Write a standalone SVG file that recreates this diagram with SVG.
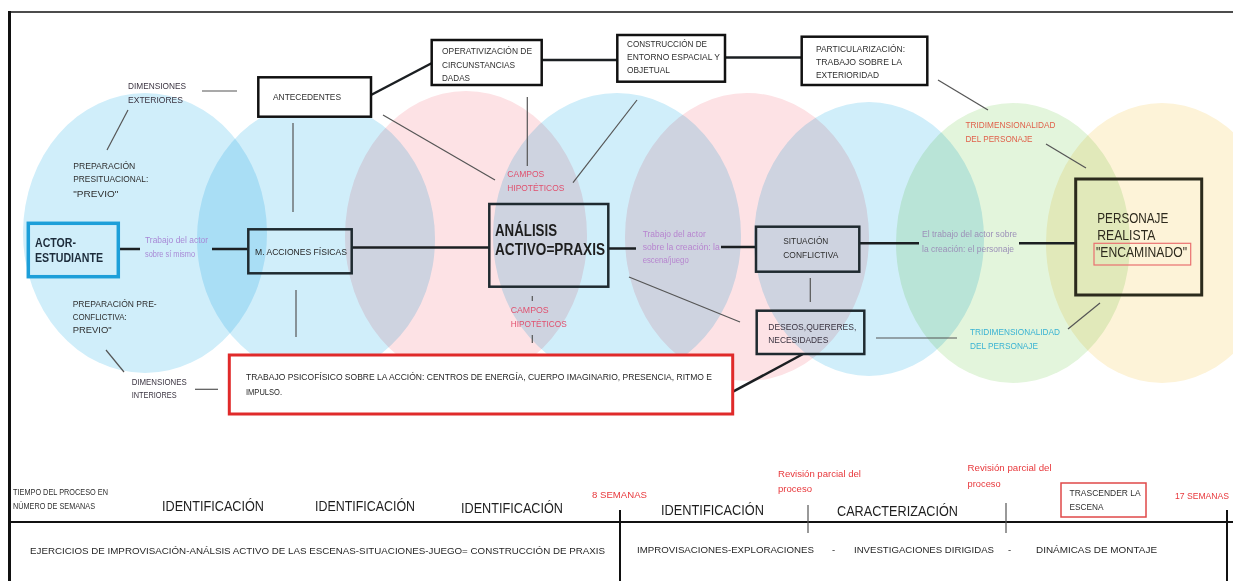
<svg xmlns="http://www.w3.org/2000/svg" width="1233" height="581" viewBox="0 0 1233 581">
  <style>
    text { font-family: "Liberation Sans", Arial, sans-serif; }
    .sm { font-size: 9.3px; fill: #2e2e2e; }
    .dk { font-size: 9.3px; fill: #3a3340; }
    .mid { font-size: 9.5px; fill: #262626; }
    .big { font-size: 16px; fill: #1e1e1e; }
    .ident { font-size: 14px; fill: #1e1e1e; }
    .red { font-size: 9.3px; fill: #e0506e; }
    .orange { font-size: 9.3px; fill: #e0604a; }
    .cyan { font-size: 9.3px; fill: #3ab3d3; }
    .purple { font-size: 9px; fill: #a889d6; }
    .magenta { font-size: 9px; fill: #b784cf; }
    .lilac { font-size: 9px; fill: #9c90b8; }
    .alert { font-size: 9.5px; fill: #e8383c; }
    .box { fill: none; stroke: #1f2a30; stroke-width: 2.5; }
    .boxw { fill: #fff; stroke: #111; stroke-width: 2.5; }
    .thick { stroke: #1b1f22; stroke-width: 2.5; fill: none; }
    .thin { stroke: #555; stroke-width: 1.2; fill: none; }
    .frame { stroke: #111; fill: none; }
    .blob { mix-blend-mode: multiply; }
    .blue { fill: #d0eefa; }
    .pink { fill: #fde2e5; }
    .green { fill: #e3f5dc; }
    .yellow { fill: #fdf3d8; }
  </style>

  <rect width="1233" height="581" fill="#fff"/>

  <!-- overlapping fields behind the chain of nodes -->
  <g id="fields">
    <ellipse class="blob blue" cx="145" cy="233" rx="122" ry="140"/>
    <ellipse class="blob blue" cx="316" cy="239" rx="119" ry="137"/>
    <ellipse class="blob pink" cx="466" cy="236" rx="121" ry="145"/>
    <ellipse class="blob blue" cx="617" cy="236" rx="124" ry="143"/>
    <ellipse class="blob pink" cx="747" cy="237" rx="122" ry="144"/>
    <ellipse class="blob blue" cx="869" cy="239" rx="115" ry="137"/>
    <ellipse class="blob green" cx="1013" cy="243" rx="117" ry="140"/>
    <ellipse class="blob yellow" cx="1162" cy="243" rx="116" ry="140"/>
  </g>

  <!-- outer frame -->
  <g id="frame">
    <line class="frame" x1="9" y1="12" x2="1233" y2="12" stroke-width="1.6"/>
    <line class="frame" x1="9.5" y1="11" x2="9.5" y2="581" stroke-width="3"/>
  </g>

  <g id="connectors">
    <line class="thick" x1="371" y1="95" x2="432" y2="63"/>
    <line class="thick" x1="542" y1="60" x2="617" y2="60"/>
    <line class="thick" x1="725" y1="57.5" x2="802" y2="57.5"/>
    <line class="thick" x1="119" y1="249" x2="140" y2="249"/>
    <line class="thick" x1="212" y1="249" x2="248" y2="249"/>
    <line class="thick" x1="352" y1="247.5" x2="489" y2="247.5"/>
    <line class="thick" x1="608" y1="248.5" x2="636" y2="248.5"/>
    <line class="thick" x1="721" y1="247" x2="756" y2="247"/>
    <line class="thick" x1="859" y1="243.3" x2="919" y2="243.3"/>
    <line class="thick" x1="1019" y1="243.3" x2="1076" y2="243.3"/>
    <line class="thick" x1="733" y1="391.7" x2="803" y2="354"/>

    <line class="thin" x1="202" y1="91" x2="237" y2="91"/>
    <line class="thin" x1="128" y1="110" x2="107" y2="150"/>
    <line class="thin" x1="383" y1="115" x2="495" y2="180"/>
    <line class="thin" x1="293" y1="123" x2="293" y2="212"/>
    <line class="thin" x1="527.3" y1="97" x2="527.3" y2="166"/>
    <line class="thin" x1="637" y1="100" x2="573" y2="182.7"/>
    <line class="thin" x1="938" y1="80" x2="988" y2="110"/>
    <line class="thin" x1="1046" y1="144" x2="1086" y2="168"/>
    <line class="thin" x1="296" y1="290" x2="296" y2="337"/>
    <line class="thin" x1="106" y1="350" x2="124" y2="372"/>
    <line class="thin" x1="195" y1="389.3" x2="218" y2="389.3"/>
    <line class="thin" x1="532.3" y1="296" x2="532.3" y2="301"/>
    <line class="thin" x1="532.3" y1="335" x2="532.3" y2="343"/>
    <line class="thin" x1="629" y1="277" x2="740" y2="322"/>
    <line class="thin" x1="810.3" y1="278" x2="810.3" y2="302"/>
    <line class="thin" x1="876" y1="338" x2="957" y2="338"/>
    <line class="thin" x1="1100" y1="303" x2="1068" y2="329"/>
  </g>

  <!-- upper chain -->
  <g id="dimensiones-exteriores">
    <text class="dk" x="128" y="88.5" textLength="58" lengthAdjust="spacingAndGlyphs">DIMENSIONES</text>
    <text class="dk" x="128" y="102.5" textLength="55" lengthAdjust="spacingAndGlyphs">EXTERIORES</text>
  </g>
  <g id="antecedentes">
    <rect class="boxw" x="258.3" y="77.3" width="112.7" height="39.4"/>
    <text class="sm" x="273" y="100" textLength="68" lengthAdjust="spacingAndGlyphs">ANTECEDENTES</text>
  </g>
  <g id="operativizacion">
    <rect class="boxw" x="431.7" y="40" width="110" height="45"/>
    <text class="sm" x="442" y="54.3" textLength="90" lengthAdjust="spacingAndGlyphs">OPERATIVIZACIÓN DE</text>
    <text class="sm" x="442" y="67.5" textLength="73" lengthAdjust="spacingAndGlyphs">CIRCUNSTANCIAS</text>
    <text class="sm" x="442" y="80.7" textLength="28" lengthAdjust="spacingAndGlyphs">DADAS</text>
  </g>
  <g id="construccion">
    <rect class="boxw" x="617.3" y="35" width="107.7" height="46.7"/>
    <text class="sm" x="627" y="46.7" textLength="80" lengthAdjust="spacingAndGlyphs">CONSTRUCCIÓN DE</text>
    <text class="sm" x="627" y="60" textLength="93" lengthAdjust="spacingAndGlyphs">ENTORNO ESPACIAL Y</text>
    <text class="sm" x="627" y="73.3" textLength="43" lengthAdjust="spacingAndGlyphs">OBJETUAL</text>
  </g>
  <g id="particularizacion">
    <rect class="boxw" x="801.7" y="36.7" width="125.6" height="48.3"/>
    <text class="sm" x="816" y="51.7" textLength="89" lengthAdjust="spacingAndGlyphs">PARTICULARIZACIÓN:</text>
    <text class="sm" x="816" y="65" textLength="86" lengthAdjust="spacingAndGlyphs">TRABAJO SOBRE LA</text>
    <text class="sm" x="816" y="78.3" textLength="63" lengthAdjust="spacingAndGlyphs">EXTERIORIDAD</text>
  </g>
  <g id="campos-superior">
    <text class="red" x="507.3" y="176.7" textLength="37" lengthAdjust="spacingAndGlyphs">CAMPOS</text>
    <text class="red" x="507.3" y="190.7" textLength="57" lengthAdjust="spacingAndGlyphs">HIPOTÉTICOS</text>
  </g>
  <g id="tridimensionalidad-superior">
    <text class="orange" x="965.5" y="128.3" textLength="90" lengthAdjust="spacingAndGlyphs">TRIDIMENSIONALIDAD</text>
    <text class="orange" x="965.5" y="141.7" textLength="67" lengthAdjust="spacingAndGlyphs">DEL PERSONAJE</text>
  </g>
  <g id="preparacion-presituacional">
    <text class="sm" x="73.3" y="168.5" textLength="62" lengthAdjust="spacingAndGlyphs">PREPARACIÓN</text>
    <text class="sm" x="73.3" y="182.3" textLength="75" lengthAdjust="spacingAndGlyphs">PRESITUACIONAL:</text>
    <text class="sm" x="73.3" y="196.5" textLength="45" lengthAdjust="spacingAndGlyphs">"PREVIO"</text>
  </g>

  <!-- central chain -->
  <g id="actor-estudiante">
    <rect x="28.3" y="223.3" width="90" height="53.4" fill="none" stroke="#1d9fd9" stroke-width="3.5"/>
    <text x="35" y="247" font-size="12.5" font-weight="bold" fill="#1c2b3a" textLength="41" lengthAdjust="spacingAndGlyphs">ACTOR-</text>
    <text x="35" y="262" font-size="12.5" font-weight="bold" fill="#1c2b3a" textLength="68" lengthAdjust="spacingAndGlyphs">ESTUDIANTE</text>
  </g>
  <g id="trabajo-sobre-si">
    <text class="purple" x="145" y="243.3" textLength="63" lengthAdjust="spacingAndGlyphs">Trabajo del actor</text>
    <text class="purple" x="145" y="256.7" textLength="50" lengthAdjust="spacingAndGlyphs">sobre sí mismo</text>
  </g>
  <g id="acciones-fisicas">
    <rect class="box" x="248.3" y="229.3" width="103.4" height="44"/>
    <text class="mid" x="255" y="255" textLength="92" lengthAdjust="spacingAndGlyphs">M. ACCIONES FÍSICAS</text>
  </g>
  <g id="analisis-activo">
    <rect class="box" x="489.3" y="204" width="119" height="82.7" stroke-width="3"/>
    <text class="big" x="495" y="235.7" font-weight="bold" textLength="62" lengthAdjust="spacingAndGlyphs">ANÁLISIS</text>
    <text class="big" x="495" y="255" font-weight="bold" textLength="110" lengthAdjust="spacingAndGlyphs">ACTIVO=PRAXIS</text>
  </g>
  <g id="trabajo-sobre-escena">
    <text class="magenta" x="642.7" y="236.7" textLength="63" lengthAdjust="spacingAndGlyphs">Trabajo del actor</text>
    <text class="magenta" x="642.7" y="250" textLength="77" lengthAdjust="spacingAndGlyphs">sobre la creación: la</text>
    <text class="magenta" x="642.7" y="263.3" textLength="46" lengthAdjust="spacingAndGlyphs">escena/juego</text>
  </g>
  <g id="situacion-conflictiva">
    <rect class="box" x="756" y="226.7" width="103.3" height="45"/>
    <text class="sm" x="783.3" y="244.3" textLength="45" lengthAdjust="spacingAndGlyphs">SITUACIÓN</text>
    <text class="sm" x="783.3" y="258.3" textLength="55" lengthAdjust="spacingAndGlyphs">CONFLICTIVA</text>
  </g>
  <g id="trabajo-sobre-personaje">
    <text class="lilac" x="922" y="236.7" textLength="95" lengthAdjust="spacingAndGlyphs">El trabajo del actor sobre</text>
    <text class="lilac" x="922" y="252" textLength="92" lengthAdjust="spacingAndGlyphs">la creación: el personaje</text>
  </g>
  <g id="personaje-realista">
    <rect x="1075.7" y="179" width="126" height="116" fill="none" stroke="#2b2a1c" stroke-width="3"/>
    <text x="1097.3" y="222.7" font-size="15" fill="#2e2a1e" textLength="71" lengthAdjust="spacingAndGlyphs">PERSONAJE</text>
    <text x="1097.3" y="239.5" font-size="15" fill="#2e2a1e" textLength="58" lengthAdjust="spacingAndGlyphs">REALISTA</text>
    <rect x="1094" y="243.3" width="96.7" height="21.7" fill="none" stroke="#ea7070" stroke-width="1.2"/>
    <text x="1096" y="256.7" font-size="15" fill="#2e2a1e" textLength="91" lengthAdjust="spacingAndGlyphs">"ENCAMINADO"</text>
  </g>

  <!-- lower chain -->
  <g id="preparacion-preconflictiva">
    <text class="sm" x="72.7" y="306.5" textLength="84" lengthAdjust="spacingAndGlyphs">PREPARACIÓN PRE-</text>
    <text class="sm" x="72.7" y="320" textLength="54" lengthAdjust="spacingAndGlyphs">CONFLICTIVA:</text>
    <text class="sm" x="72.7" y="333" textLength="39" lengthAdjust="spacingAndGlyphs">PREVIO"</text>
  </g>
  <g id="campos-inferior">
    <text class="red" x="510.7" y="312.7" textLength="38" lengthAdjust="spacingAndGlyphs">CAMPOS</text>
    <text class="red" x="510.7" y="326.7" textLength="56" lengthAdjust="spacingAndGlyphs">HIPOTÉTICOS</text>
  </g>
  <g id="deseos">
    <rect class="box" x="756.7" y="310.7" width="107.6" height="43.3"/>
    <text class="dk" x="768.3" y="330" textLength="88" lengthAdjust="spacingAndGlyphs">DESEOS,QUERERES,</text>
    <text class="dk" x="768.3" y="342.5" textLength="60" lengthAdjust="spacingAndGlyphs">NECESIDADES</text>
  </g>
  <g id="tridimensionalidad-inferior">
    <text class="cyan" x="970" y="335" textLength="90" lengthAdjust="spacingAndGlyphs">TRIDIMENSIONALIDAD</text>
    <text class="cyan" x="970" y="348.5" textLength="68" lengthAdjust="spacingAndGlyphs">DEL PERSONAJE</text>
  </g>
  <g id="dimensiones-interiores">
    <text class="dk" x="131.7" y="384.5" textLength="55" lengthAdjust="spacingAndGlyphs">DIMENSIONES</text>
    <text class="dk" x="131.7" y="398" textLength="45" lengthAdjust="spacingAndGlyphs">INTERIORES</text>
  </g>
  <g id="trabajo-psicofisico">
    <rect x="229.3" y="355" width="503.4" height="59" fill="#fff" stroke="#e02a2a" stroke-width="3"/>
    <text class="mid" x="246" y="380" textLength="466" lengthAdjust="spacingAndGlyphs">TRABAJO PSICOFÍSICO SOBRE LA ACCIÓN: CENTROS DE ENERGÍA, CUERPO IMAGINARIO, PRESENCIA, RITMO E</text>
    <text class="mid" x="246" y="394.5" textLength="36" lengthAdjust="spacingAndGlyphs">IMPULSO.</text>
  </g>

  <!-- timeline -->
  <g id="timeline">
    <line class="frame" x1="9" y1="522" x2="1233" y2="522" stroke-width="2"/>
    <line class="frame" x1="620" y1="510" x2="620" y2="581" stroke-width="2"/>
    <line class="frame" x1="1227" y1="510" x2="1227" y2="581" stroke-width="2"/>
    <line class="thin" x1="808" y1="505" x2="808" y2="533"/>
    <line class="thin" x1="1006" y1="503" x2="1006" y2="533"/>

    <text class="sm" x="13" y="495" font-size="8.5" textLength="95" lengthAdjust="spacingAndGlyphs">TIEMPO DEL PROCESO EN</text>
    <text class="sm" x="13" y="509" font-size="8.5" textLength="82" lengthAdjust="spacingAndGlyphs">NÚMERO DE SEMANAS</text>
    <text class="ident" x="162" y="511" textLength="102" lengthAdjust="spacingAndGlyphs">IDENTIFICACIÓN</text>
    <text class="ident" x="315" y="511" textLength="100" lengthAdjust="spacingAndGlyphs">IDENTIFICACIÓN</text>
    <text class="ident" x="461" y="513" textLength="102" lengthAdjust="spacingAndGlyphs">IDENTIFICACIÓN</text>
    <text class="alert" x="592" y="498" font-size="9" textLength="55" lengthAdjust="spacingAndGlyphs">8 SEMANAS</text>
    <text class="ident" x="661" y="515" textLength="103" lengthAdjust="spacingAndGlyphs">IDENTIFICACIÓN</text>
    <text class="ident" x="837" y="516" textLength="121" lengthAdjust="spacingAndGlyphs">CARACTERIZACIÓN</text>
    <text class="alert" x="778" y="477" textLength="83" lengthAdjust="spacingAndGlyphs">Revisión parcial del</text>
    <text class="alert" x="778" y="492" textLength="34" lengthAdjust="spacingAndGlyphs">proceso</text>
    <text class="alert" x="967.6" y="471" textLength="84" lengthAdjust="spacingAndGlyphs">Revisión parcial del</text>
    <text class="alert" x="967.6" y="487" textLength="33" lengthAdjust="spacingAndGlyphs">proceso</text>
    <rect x="1061" y="483" width="85" height="34" fill="none" stroke="#e04848" stroke-width="1.5"/>
    <text class="sm" x="1069.6" y="495.5" font-size="8.5" textLength="71" lengthAdjust="spacingAndGlyphs">TRASCENDER LA</text>
    <text class="sm" x="1069.6" y="509.5" font-size="8.5" textLength="34" lengthAdjust="spacingAndGlyphs">ESCENA</text>
    <text class="alert" x="1175" y="499" font-size="9" textLength="54" lengthAdjust="spacingAndGlyphs">17 SEMANAS</text>
    <text class="mid" x="30" y="554" textLength="575" lengthAdjust="spacingAndGlyphs">EJERCICIOS DE IMPROVISACIÓN-ANÁLSIS ACTIVO DE LAS ESCENAS-SITUACIONES-JUEGO= CONSTRUCCIÓN DE PRAXIS</text>
    <text class="mid" x="637" y="553" textLength="177" lengthAdjust="spacingAndGlyphs">IMPROVISACIONES-EXPLORACIONES</text>
    <text class="mid" x="832" y="553">-</text>
    <text class="mid" x="854" y="553" textLength="140" lengthAdjust="spacingAndGlyphs">INVESTIGACIONES DIRIGIDAS</text>
    <text class="mid" x="1008" y="553">-</text>
    <text class="mid" x="1036" y="553" textLength="121" lengthAdjust="spacingAndGlyphs">DINÁMICAS DE MONTAJE</text>
  </g>
</svg>
